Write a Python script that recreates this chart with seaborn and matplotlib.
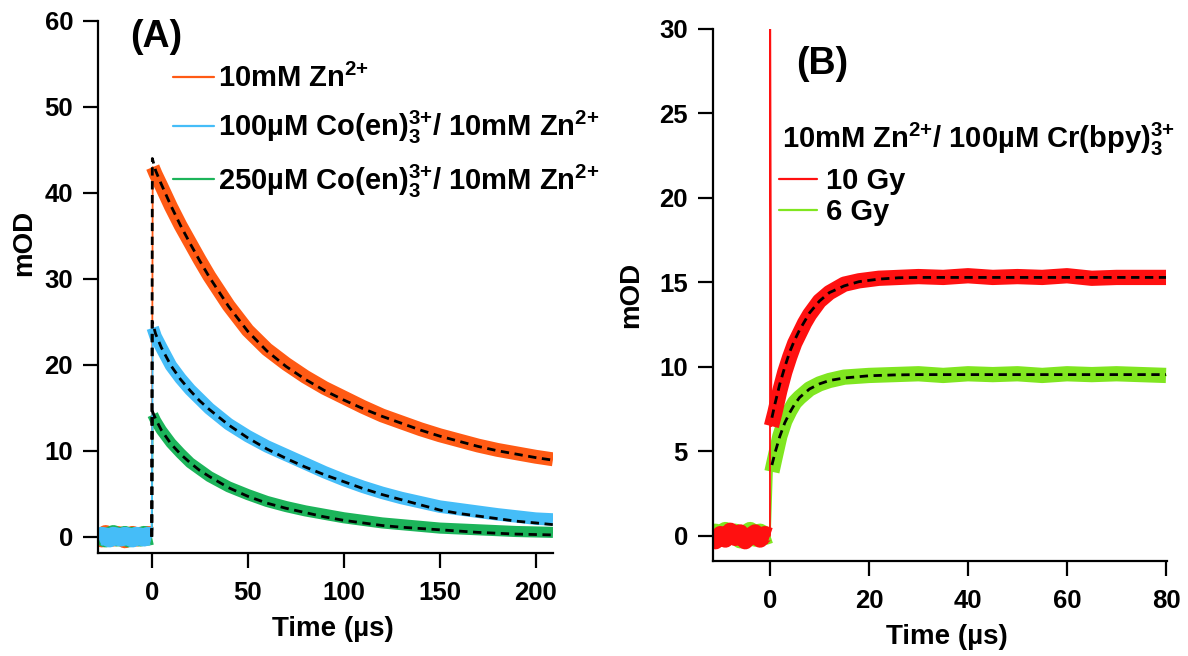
import matplotlib
matplotlib.use("Agg")
import matplotlib.pyplot as plt
import seaborn as sns
from matplotlib.lines import Line2D

sns.set_style("ticks")
plt.rcParams['font.family'] = ['Liberation Sans', 'DejaVu Sans']
plt.rcParams['font.weight'] = 'bold'
plt.rcParams['mathtext.fontset'] = 'custom'
plt.rcParams['mathtext.rm'] = 'Liberation Sans:bold'
plt.rcParams['mathtext.bf'] = 'Liberation Sans:bold'
plt.rcParams['mathtext.it'] = 'Liberation Sans:bold'
plt.rcParams['mathtext.default'] = 'bf'
for k in ('text.color', 'axes.labelcolor', 'xtick.color', 'ytick.color', 'axes.edgecolor'):
    plt.rcParams[k] = 'black'

# ---------------- Panel A data ----------------
a_base_t = [-28, -26, -24, -22, -20, -18, -16, -14, -12, -10, -8, -6, -4, -2, 0]
a_orange_base = [0.1, -0.2, 0.3, 0.0, -0.1, 0.2, 0.1, -0.3, 0.0, 0.2, -0.1, 0.1, 0.0, 0.2, 0.1]
a_green_base = [0.2, 0.0, -0.2, 0.1, 0.3, -0.1, 0.0, 0.2, -0.2, 0.1, 0.0, -0.1, 0.2, 0.0, 0.1]
a_blue_base = [-0.1, 0.1, 0.0, -0.2, 0.1, 0.0, -0.1, 0.1, 0.0, -0.2, 0.1, 0.0, -0.1, 0.1, 0.0]

a_t = [0.5, 2, 5, 10, 15, 20, 25, 30, 40, 50, 60, 70, 80, 90, 100, 110, 120,
       130, 140, 150, 160, 170, 180, 190, 200, 209]
a_orange = [43.0, 42.2, 40.8, 38.4, 36.2, 34.2, 32.2, 30.3, 26.9, 24.0, 21.8, 20.1,
            18.6, 17.3, 16.2, 15.1, 14.1, 13.3, 12.5, 11.8, 11.2, 10.6, 10.1, 9.7, 9.3, 9.0]
a_blue = [24.3, 23.3, 22.0, 19.9, 18.4, 17.1, 16.0, 14.9, 13.1, 11.7, 10.5, 9.5,
          8.5, 7.5, 6.6, 5.8, 5.1, 4.5, 4.0, 3.5, 3.2, 2.9, 2.6, 2.35, 2.1, 2.0]
a_green = [14.2, 13.5, 12.4, 10.9, 9.7, 8.6, 7.8, 7.0, 5.8, 4.9, 4.1, 3.5,
           3.0, 2.6, 2.2, 1.9, 1.6, 1.4, 1.2, 1.0, 0.9, 0.8, 0.7, 0.6, 0.55, 0.5]

a_fit_t = [0, 0.3, 2, 5, 10, 15, 20, 25, 30, 40, 50, 60, 70, 80, 90, 100, 110, 120,
           130, 140, 150, 160, 170, 180, 190, 200, 209]
a_orange_fit = [0, 44.0, 42.6, 41.0, 38.5, 36.2, 34.1, 32.1, 30.2, 26.8, 23.9, 21.6, 19.8,
                18.3, 17.0, 15.9, 14.9, 14.0, 13.2, 12.4, 11.7, 11.1, 10.5, 10.0, 9.6, 9.2, 8.9]
a_blue_fit = [0, 25.0, 23.6, 22.0, 19.9, 18.3, 17.0, 15.8, 14.8, 13.0, 11.5, 10.2, 9.1,
              8.1, 7.2, 6.4, 5.6, 4.9, 4.3, 3.7, 3.1, 2.7, 2.4, 2.1, 1.8, 1.6, 1.4]
a_green_fit = [0, 14.6, 13.7, 12.4, 10.8, 9.6, 8.6, 7.7, 7.0, 5.7, 4.7, 3.9, 3.3,
               2.8, 2.3, 1.9, 1.6, 1.3, 1.1, 0.95, 0.8, 0.65, 0.5, 0.4, 0.3, 0.25, 0.2]

a_labels = ["10mM Zn$^{\\text{2+}}$",
            "100µM Co(en)$_{3}^{\\text{3+}}$/ 10mM Zn$^{\\text{2+}}$",
            "250µM Co(en)$_{3}^{\\text{3+}}$/ 10mM Zn$^{\\text{2+}}$"]
a_colors = ["#FF5A14", "#45BDF8", "#1CB45A"]
a_xticks = [0, 50, 100, 150, 200]
a_yticks = [0, 10, 20, 30, 40, 50, 60]

# ---------------- Panel B data ----------------
b_base_t = [-11.5, -11, -10, -9, -8, -7, -6, -5, -4, -3, -2, -1, 0]
b_red_base = [0.2, -0.3, 0.1, -0.2, 0.3, -0.1, 0.2, -0.3, 0.0, 0.2, -0.2, 0.1, 0.0]
b_green_base = [0.1, 0.2, -0.1, 0.3, 0.0, 0.2, -0.2, 0.1, 0.3, -0.1, 0.2, 0.0, 0.1]

b_red_t = [0.3, 1, 2, 3, 4, 5, 6, 7, 8, 10, 12, 15, 18, 22, 26, 30, 35, 40, 45, 50,
           55, 60, 65, 70, 75, 80]
b_red = [6.5, 7.3, 8.6, 9.7, 10.6, 11.4, 12.0, 12.6, 13.1, 13.9, 14.4, 14.9, 15.1, 15.25,
         15.3, 15.35, 15.3, 15.4, 15.3, 15.35, 15.3, 15.4, 15.25, 15.3, 15.3, 15.3]
b_green_t = [0.4, 1, 2, 3, 4, 5, 6, 8, 10, 12, 15, 20, 25, 30, 35, 40, 45, 50,
             55, 60, 65, 70, 75, 80]
b_green = [3.8, 4.6, 5.9, 6.8, 7.4, 7.9, 8.2, 8.7, 9.0, 9.2, 9.4, 9.5, 9.55, 9.6, 9.5,
           9.6, 9.55, 9.6, 9.5, 9.6, 9.55, 9.6, 9.55, 9.5]
b_spike_t = [0, 0.05, 0.3]
b_spike = [0.0, 30.0, 6.5]

b_red_fit_t = [0.4, 1, 2, 3, 4, 5, 6, 7, 8, 10, 12, 15, 18, 22, 26, 30, 80]
b_red_fit = [7.0, 7.8, 9.0, 10.0, 10.9, 11.6, 12.2, 12.7, 13.2, 13.9, 14.4, 14.8,
             15.05, 15.2, 15.28, 15.3, 15.3]
b_green_fit_t = [0.4, 1, 2, 3, 4, 5, 6, 8, 10, 12, 15, 20, 25, 30, 80]
b_green_fit = [4.2, 4.9, 5.9, 6.7, 7.3, 7.8, 8.2, 8.7, 9.0, 9.2, 9.35, 9.48, 9.53, 9.55, 9.55]

b_labels = ["10 Gy", "6 Gy"]
b_title = "10mM Zn$^{\\text{2+}}$/ 100µM Cr(bpy)$_{3}^{\\text{3+}}$"
b_colors = ["#FF1010", "#80E620"]
b_xticks = [0, 20, 40, 60, 80]
b_yticks = [0, 5, 10, 15, 20, 25, 30]

# ---------------- Figure ----------------
W, H = 1188, 656
fig = plt.figure(figsize=(W / 100, H / 100), dpi=100)
axA = fig.add_axes([98 / W, 1 - 553 / H, 455 / W, 532 / H])
axB = fig.add_axes([713 / W, 1 - 561 / H, 454 / W, 532 / H])

fit_style = dict(color="black", lw=2.0, linestyle=(0, (3, 2)))


def style_axis(ax, xt, yt, xlim, ylim):
    ax.set_xlim(*xlim)
    ax.set_ylim(*ylim)
    ax.set_xticks(xt)
    ax.set_yticks(yt)
    sns.despine(ax=ax)
    for s in ("left", "bottom"):
        ax.spines[s].set_linewidth(1.6)
        ax.spines[s].set_color("black")
    ax.tick_params(axis="both", direction="out", length=11, width=1.6,
                   labelsize=18.5, colors="black")
    ax.tick_params(axis="x", pad=9)
    ax.tick_params(axis="y", pad=7)
    for lab in ax.get_xticklabels() + ax.get_yticklabels():
        lab.set_fontweight("bold")


# Panel A traces
a_traces = [(a_orange_base, a_orange, a_colors[0], 10),
            (a_green_base, a_green, a_colors[2], 8),
            (a_blue_base, a_blue, a_colors[1], 9)]
for base, dec, col, lw in a_traces:
    sns.lineplot(x=a_base_t + a_t, y=base + dec, ax=axA, color=col, lw=1.3,
                 estimator=None, sort=False)
    sns.lineplot(x=a_base_t, y=base, ax=axA, color=col, lw=13,
                 estimator=None, sort=False, solid_capstyle="butt")
    sns.lineplot(x=a_t, y=dec, ax=axA, color=col, lw=lw,
                 estimator=None, sort=False, solid_capstyle="butt")
for fit in (a_orange_fit, a_blue_fit, a_green_fit):
    sns.lineplot(x=a_fit_t, y=fit, ax=axA, estimator=None, sort=False, **fit_style)

style_axis(axA, a_xticks, a_yticks, (-28, 209), (-1.9, 60))
axA.set_xlabel("Time (µs)", fontsize=20, fontweight="bold")
axA.set_ylabel("mOD", fontsize=20, fontweight="bold")
axA.yaxis.set_label_coords(-0.134, 0.583)
axA.xaxis.set_label_coords(0.516, -0.118)

hA = [Line2D([], [], color=c, lw=1.6) for c in a_colors]
legA = axA.legend(hA, a_labels, loc="upper left", frameon=False,
                  bbox_to_anchor=(173 / W, 1 - 64 / H), bbox_transform=fig.transFigure,
                  borderpad=0, borderaxespad=0, handlelength=1.4, handletextpad=0.15,
                  labelspacing=0.55, prop={"size": 21, "weight": "bold"})

# Panel B traces
sns.lineplot(x=b_base_t + b_green_t, y=b_green_base + b_green, ax=axB, color=b_colors[1],
             lw=1.3, estimator=None, sort=False)
sns.lineplot(x=b_base_t, y=b_green_base, ax=axB, color=b_colors[1], lw=13,
             estimator=None, sort=False, solid_capstyle="butt")
sns.lineplot(x=b_green_t, y=b_green, ax=axB, color=b_colors[1], lw=11,
             estimator=None, sort=False, solid_capstyle="butt")
sns.lineplot(x=b_spike_t, y=b_spike, ax=axB, color=b_colors[0], lw=1.3,
             estimator=None, sort=False)
sns.lineplot(x=b_base_t, y=b_red_base, ax=axB, color=b_colors[0], lw=12,
             estimator=None, sort=False, solid_capstyle="butt")
sns.lineplot(x=b_red_t, y=b_red, ax=axB, color=b_colors[0], lw=11,
             estimator=None, sort=False, solid_capstyle="butt")
sns.lineplot(x=b_red_fit_t, y=b_red_fit, ax=axB, estimator=None, sort=False, **fit_style)
sns.lineplot(x=b_green_fit_t, y=b_green_fit, ax=axB, estimator=None, sort=False, **fit_style)

style_axis(axB, b_xticks, b_yticks, (-11.5, 80.2), (-1.48, 30))
axB.set_xlabel("Time (µs)", fontsize=20, fontweight="bold")
axB.set_ylabel("mOD", fontsize=20, fontweight="bold")
axB.yaxis.set_label_coords(-0.152, 0.5)
axB.xaxis.set_label_coords(0.515, -0.118)

hB = [Line2D([], [], color=c, lw=1.6) for c in b_colors]
legB = axB.legend(hB, b_labels, loc="upper left", frameon=False,
                  bbox_to_anchor=(779 / W, 1 - 167 / H), bbox_transform=fig.transFigure,
                  borderpad=0, borderaxespad=0, handlelength=1.3, handletextpad=0.3,
                  labelspacing=0.1, prop={"size": 21, "weight": "bold"})
fig.text(782 / W, 1 - 139 / H, b_title, fontsize=21, fontweight="bold",
         ha="left", va="center")

fig.text(156 / W, 1 - 37 / H, "(A)", fontsize=27, fontweight="bold", ha="center", va="center")
fig.text(822 / W, 1 - 64 / H, "(B)", fontsize=27, fontweight="bold", ha="center", va="center")

fig.savefig("out.png", dpi=100)
